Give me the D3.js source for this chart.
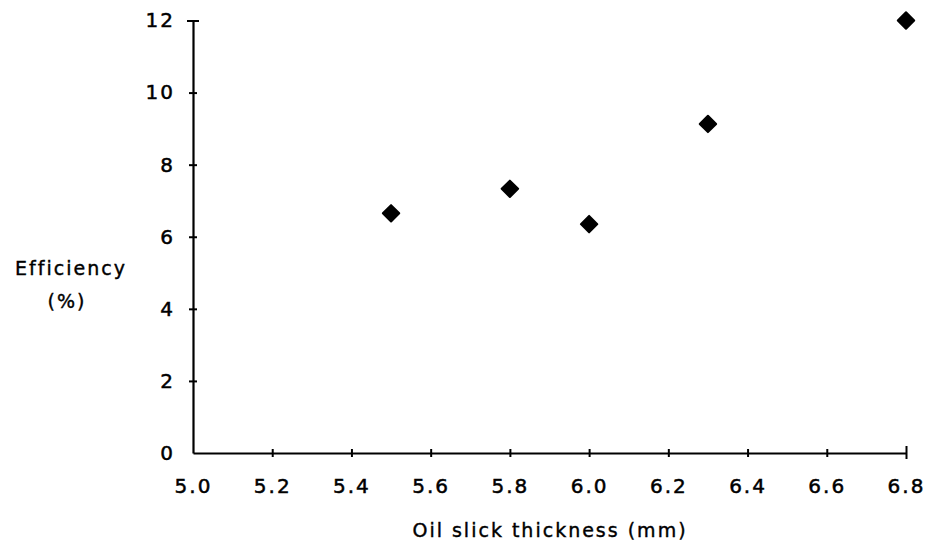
<!DOCTYPE html>
<html>
<head>
  <meta charset="utf-8">
  <script src="https://d3js.org/d3.v7.min.js"></script>
</head>
<body>
<svg width="933" height="547"></svg>
<script>
// data
var thickness = [5.5, 5.8, 6.0, 6.3, 6.8];
var efficiency = [6.65, 7.33, 6.35, 9.13, 12.0];
var xTicks = [5.0, 5.2, 5.4, 5.6, 5.8, 6.0, 6.2, 6.4, 6.6, 6.8];
var yTicks = [0, 2, 4, 6, 8, 10, 12];

var svg = d3.select("svg");
var font = "'DejaVu Sans', sans-serif";

var x = d3.scaleLinear().domain([5.0, 6.8]).range([193, 906]);
var y = d3.scaleLinear().domain([0, 12]).range([453, 20.5]);

// x axis
var gx = svg.append("g").attr("transform", "translate(0," + y(0) + ")")
  .call(d3.axisBottom(x).tickValues(xTicks).tickFormat(d3.format(".1f")).tickSize(0).tickPadding(26));
gx.select(".domain").attr("stroke-width", 2.2).attr("stroke", "#000");
gx.selectAll(".tick line").attr("y1", -4).attr("y2", 4).attr("stroke-width", 2);
gx.selectAll(".tick").filter(function (d) { return d == 6.8; }).select("line").attr("y1", -7).attr("y2", 6);
gx.selectAll(".tick").filter(function (d) { return d == 5.0; }).select("line").remove();
gx.selectAll("text").attr("font-family", font).attr("font-size", "20px")
  .attr("letter-spacing", "2px").attr("fill", "#000")
  .attr("stroke", "#000").attr("stroke-width", 0.5);

// y axis
var gy = svg.append("g").attr("transform", "translate(" + x(5.0) + ",0)")
  .call(d3.axisLeft(y).tickValues(yTicks).tickSize(0).tickPadding(18));
gy.select(".domain").attr("stroke-width", 2.2).attr("stroke", "#000");
gy.selectAll(".tick line").attr("x1", -4).attr("x2", 4).attr("stroke-width", 2);
gy.selectAll(".tick").filter(function (d) { return d == 12; }).select("line").attr("x1", -6).attr("x2", 6);
gy.selectAll(".tick").filter(function (d) { return d == 0; }).select("line").remove();
gy.selectAll("text").attr("font-family", font).attr("font-size", "20px")
  .attr("letter-spacing", "2px").attr("fill", "#000")
  .attr("stroke", "#000").attr("stroke-width", 0.5);

// points
var diamond = d3.symbol().type(d3.symbolSquare).size(135);
svg.selectAll(".pt").data(thickness).enter().append("path")
  .attr("class", "pt")
  .attr("d", diamond)
  .attr("transform", function (d, i) { return "translate(" + x(d) + "," + y(efficiency[i]) + ") rotate(45)"; })
  .attr("fill", "#000")
  .attr("stroke", "#000")
  .attr("stroke-width", 2)
  .attr("stroke-linejoin", "round");

// axis titles
function title(txt, tx, ty) {
  svg.append("text")
    .attr("x", tx).attr("y", ty)
    .attr("text-anchor", "middle")
    .attr("font-family", font).attr("font-size", "19px").attr("letter-spacing", "2px")
    .attr("fill", "#000").attr("stroke", "#000").attr("stroke-width", 0.4)
    .text(txt);
}
title("Oil slick thickness (mm)", 550, 537);
title("Efficiency", 71, 275);
title("(%)", 67, 308);
</script>
<style>
body { margin: 0; background: #fff; }
svg { display: block; }
</style>
</body>
</html>
